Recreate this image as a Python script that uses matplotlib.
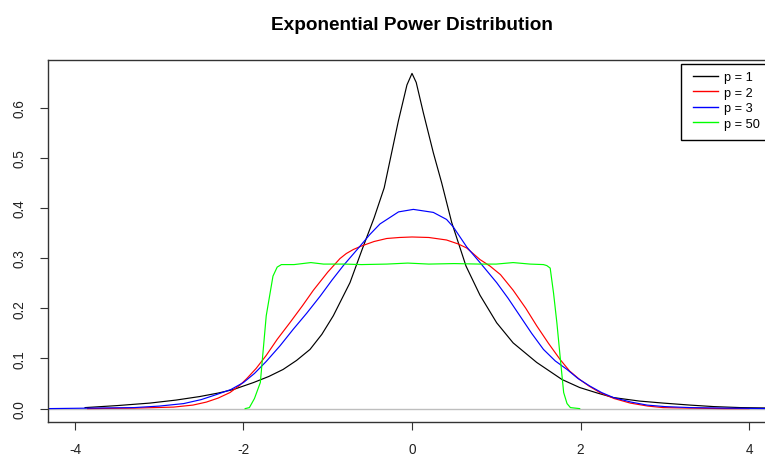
import matplotlib
matplotlib.use("Agg")
import matplotlib.pyplot as plt
from matplotlib.patches import Rectangle

plt.rcParams['font.family'] = ['Liberation Sans', 'DejaVu Sans']

title = "Exponential Power Distribution"
labels = ["p = 1", "p = 2", "p = 3", "p = 50"]
colors = ["black", "red", "blue", "#00ff00"]

x_p1 = [-3.88, -3.5, -3.11, -2.8, -2.52, -2.3, -2.12, -1.88, -1.7, -1.53, -1.37, -1.21, -1.07,
        -0.934, -0.736, -0.59, -0.45, -0.33, -0.162, -0.06, 0.0, 0.05, 0.134, 0.253, 0.352,
        0.471, 0.641, 0.807, 1.005, 1.2, 1.48, 1.78, 1.99, 2.2, 2.39, 2.7, 2.98, 3.3, 3.58, 3.9, 4.3]
y_p1 = [0.002, 0.006, 0.011, 0.017, 0.024, 0.031, 0.038, 0.052, 0.064, 0.078, 0.096, 0.118, 0.148,
        0.185, 0.251, 0.318, 0.38, 0.44, 0.573, 0.645, 0.668, 0.65, 0.59, 0.51, 0.45,
        0.371, 0.284, 0.226, 0.171, 0.131, 0.092, 0.058, 0.042, 0.031, 0.022, 0.015, 0.011, 0.007,
        0.004, 0.002, 0.001]

x_p2 = [-3.85, -3.3, -2.83, -2.6, -2.44, -2.3, -2.16, -2.04, -1.96, -1.85, -1.73, -1.6, -1.45,
        -1.3, -1.17, -1.0, -0.855, -0.78, -0.697, -0.6, -0.45, -0.3, -0.15, 0.0, 0.2, 0.41, 0.55,
        0.65, 0.807, 0.926, 1.05, 1.2, 1.35, 1.48, 1.62, 1.757, 1.87, 1.99, 2.1, 2.23, 2.4, 2.59,
        2.8, 2.98, 3.3, 3.7, 4.0]
y_p2 = [0.0, 0.001, 0.003, 0.007, 0.013, 0.021, 0.032, 0.047, 0.060, 0.08, 0.106, 0.138, 0.171,
        0.205, 0.236, 0.272, 0.299, 0.309, 0.317, 0.324, 0.333, 0.339, 0.341, 0.342, 0.341, 0.336,
        0.328, 0.32, 0.297, 0.284, 0.267, 0.236, 0.20, 0.165, 0.13, 0.098, 0.075, 0.058, 0.045,
        0.032, 0.02, 0.011, 0.005, 0.002, 0.001, 0.0, 0.0]

x_p3 = [-4.32, -3.8, -3.3, -3.0, -2.71, -2.5, -2.32, -2.15, -2.0, -1.87, -1.73, -1.567, -1.41,
        -1.25, -1.09, -0.95, -0.815, -0.697, -0.6, -0.5, -0.38, -0.16, 0.016, 0.253, 0.41, 0.49,
        0.65, 0.807, 1.005, 1.14, 1.28, 1.42, 1.56, 1.7, 1.84, 1.97, 2.11, 2.25, 2.39, 2.6, 2.79,
        3.0, 3.3, 3.7, 4.3]
y_p3 = [0.0, 0.001, 0.002, 0.005, 0.010, 0.018, 0.028, 0.038, 0.052, 0.07, 0.094, 0.125, 0.158,
        0.19, 0.224, 0.256, 0.285, 0.308, 0.327, 0.347, 0.368, 0.392, 0.397, 0.391, 0.377, 0.362,
        0.322, 0.291, 0.251, 0.22, 0.185, 0.15, 0.118, 0.095, 0.078, 0.06, 0.045, 0.032, 0.022,
        0.013, 0.007, 0.004, 0.002, 0.001, 0.0]

x_p50 = [-1.98, -1.93, -1.87, -1.80, -1.73, -1.65, -1.60, -1.55, -1.4, -1.2, -1.05, -0.8, -0.6,
         -0.3, -0.05, 0.2, 0.5, 0.8, 1.0, 1.2, 1.4, 1.56, 1.60, 1.64, 1.68, 1.72, 1.76, 1.80,
         1.84, 1.88, 1.99]
y_p50 = [0.0, 0.002, 0.02, 0.052, 0.185, 0.264, 0.282, 0.287, 0.287, 0.291, 0.288, 0.288, 0.287,
         0.288, 0.29, 0.288, 0.289, 0.288, 0.288, 0.291, 0.288, 0.287, 0.285, 0.28, 0.23, 0.17,
         0.10, 0.032, 0.01, 0.002, 0.0]

xticks = [-4, -2, 0, 2, 4]
yticks = [0.0, 0.1, 0.2, 0.3, 0.4, 0.5, 0.6]
ytick_labels = ["0.0", "0.1", "0.2", "0.3", "0.4", "0.5", "0.6"]

fig = plt.figure(figsize=(7.65, 4.56), dpi=100)
ax_l, ax_b, ax_w, ax_h = 48, 423, 728, 362  # pixels
ax = fig.add_axes([ax_l / 765, 1 - ax_b / 456, ax_w / 765, ax_h / 456])

ax.axhline(0, color="#bebebe", lw=1.0, zorder=1)
series = [(x_p1, y_p1), (x_p2, y_p2), (x_p3, y_p3), (x_p50, y_p50)]
for (xs, ys), c, lab in zip(series, colors, labels):
    ax.plot(xs, ys, color=c, lw=0.85, label=lab, zorder=2)

ax.set_xlim(-4.32, 4.32)
ax.set_ylim(-0.0267, 0.6947)
ax.set_xticks(xticks)
ax.set_xticklabels([str(t) for t in xticks])
ax.set_yticks(yticks)
ax.set_yticklabels(ytick_labels, rotation=90, va="center")
ax.tick_params(axis="both", length=5.8, width=0.8, color="#333333", labelsize=9.8, labelcolor="#222222")
ax.tick_params(axis="y", pad=9.4)
ax.tick_params(axis="x", pad=8.5)
for s in ax.spines.values():
    s.set_color("#333333")
    s.set_linewidth(1.0)

ax.set_title(title, fontsize=13.7, fontweight="bold", pad=22)

# legend frame (pixel box 681..776 x 65..141)
def fx(px):
    return (px - ax_l) / ax_w

def fy(py):
    return (ax_b - py) / ax_h

ax.add_patch(Rectangle((fx(681), fy(141)), fx(790) - fx(681), fy(65) - fy(141),
                       transform=ax.transAxes, facecolor="white", edgecolor="black",
                       lw=1.0, zorder=5, clip_on=False))
leg = ax.legend(loc="upper left", bbox_to_anchor=(fx(693), fy(72.5)), borderaxespad=0,
                fontsize=9.2, frameon=False, handlelength=1.95, handletextpad=0.5,
                labelspacing=0.27, borderpad=0.0)
leg.set_zorder(6)
for line in leg.get_lines():
    line.set_linewidth(1.0)

fig.savefig("out.png", dpi=100)
